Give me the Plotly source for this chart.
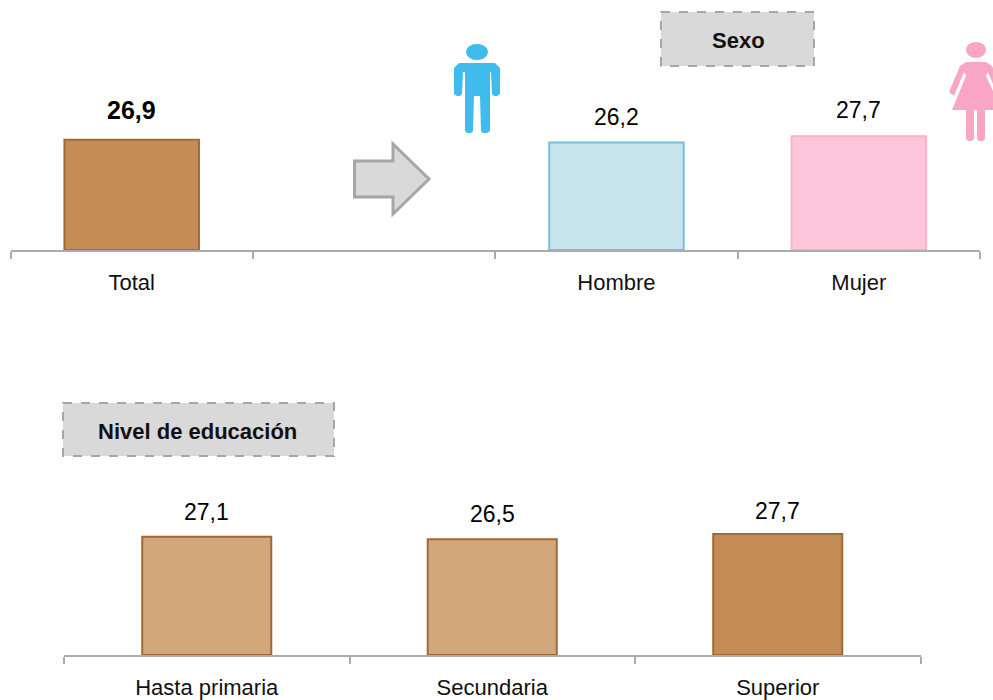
import plotly.graph_objects as go

W, H = 993, 700
FONT = "Liberation Sans"

sexo_cats = ["Total", " ", "Hombre", "Mujer"]
sexo_vals = [26.9, None, 26.2, 27.7]
sexo_fill = ["#C58C55", "#FFFFFF", "#C7E5ED", "#FFC5DB"]
sexo_line = ["#A06A35", "#FFFFFF", "#78C0D6", "#FFAFCB"]

edu_cats = ["Hasta primaria", "Secundaria", "Superior"]
edu_vals = [27.1, 26.5, 27.7]
edu_fill = ["#D3A77C", "#D3A77C", "#C58C55"]
edu_line = ["#A06A35", "#A06A35", "#A06A35"]

sexo_title = "Sexo"
edu_title = "Nivel de educación"


def fmt(v):
    return f"{v:.1f}".replace(".", ",")


def px(x):
    return x / W


def py(y):
    return 1 - y / H


def path(points):
    return "M " + " L ".join(f"{px(x):.5f},{py(y):.5f}" for x, y in points) + " Z"


def deco(pts, fill, line=None, width=0, dash="solid"):
    return dict(type="path", xref="paper", yref="paper", path=path(pts), fillcolor=fill,
                line=dict(color=line or fill, width=width, dash=dash), layer="above")


def oval(cx, cy, rx, ry, fill):
    return dict(type="circle", xref="paper", yref="paper", x0=px(cx - rx), x1=px(cx + rx),
                y0=py(cy + ry), y1=py(cy - ry), fillcolor=fill, line=dict(width=0), layer="above")


fig = go.Figure()
fig.add_bar(x=sexo_cats, y=sexo_vals, marker=dict(color=sexo_fill, line=dict(color=sexo_line, width=2)),
            xaxis="x", yaxis="y", showlegend=False, hoverinfo="skip", width=0.555)
fig.add_bar(x=edu_cats, y=edu_vals, marker=dict(color=edu_fill, line=dict(color=edu_line, width=2)),
            xaxis="x2", yaxis="y2", showlegend=False, hoverinfo="skip", width=0.452)

annotations = []
for c, v in zip(sexo_cats, sexo_vals):
    if v is None:
        continue
    bold = c == "Total"
    annotations.append(dict(x=c, y=v, xref="x", yref="y", xanchor="center", yanchor="bottom", showarrow=False,
                            yshift=14 if bold else 11, text=f"<b>{fmt(v)}</b>" if bold else fmt(v),
                            font=dict(family=FONT, size=25 if bold else 23, color="#000000")))
for c, v in zip(edu_cats, edu_vals):
    annotations.append(dict(x=c, y=v, xref="x2", yref="y2", xanchor="center", yanchor="bottom", showarrow=False,
                            yshift=8 if c == "Superior" else 10, text=fmt(v),
                            font=dict(family=FONT, size=23, color="#000000")))

annotations.append(dict(x=px(738), y=py(40), xref="paper", yref="paper", showarrow=False,
                        xanchor="center", yanchor="middle",
                        text=f"<b>{sexo_title}</b>", font=dict(family=FONT, size=22, color="#111111")))
annotations.append(dict(x=px(197.5), y=py(431), xref="paper", yref="paper", showarrow=False,
                        xanchor="center", yanchor="middle",
                        text=f"<b>{edu_title}</b>", font=dict(family=FONT, size=22, color="#111111")))

MAN = "#3FBCEC"
WOMAN = "#F9A6C4"
man_pts = [(459, 63), (495, 63), (500, 68), (500, 94), (497, 96), (494, 96), (492, 94), (491, 72), (490, 72),
           (490, 131), (487, 133), (483, 133), (481, 131), (480, 96), (474, 96), (473, 131), (471, 133),
           (467, 133), (465, 131), (465, 72), (463, 72), (462, 94), (460, 96), (457, 96), (454, 94), (454, 68)]
woman_pts = [(966, 62), (986, 62), (992, 66), (1003, 92), (998, 96), (988, 72), (986, 76), (1002, 110),
             (985, 110), (985, 139), (983, 141), (979, 141), (977, 139), (977, 110), (974, 110), (974, 139),
             (972, 141), (968, 141), (966, 139), (966, 110), (952, 110), (966, 76), (964, 72), (954, 96),
             (949, 92), (960, 66)]
arrow_pts = [(354.5, 161), (393, 161), (393, 144), (429, 179), (393, 214), (393, 197), (354.5, 197)]
sexo_box = [(661, 12), (814, 12), (814, 66), (661, 66)]
edu_box = [(63, 403), (334, 403), (334, 456), (63, 456)]

shapes = [
    deco(sexo_box, "#D9D9D9", "#A6A6A6", 2, "dash"),
    deco(edu_box, "#D9D9D9", "#A6A6A6", 2, "dash"),
    deco(arrow_pts, "#D9D9D9", "#A6A6A6", 3),
    deco(man_pts, MAN),
    oval(477, 52, 11, 8, MAN),
    deco(woman_pts, WOMAN),
    oval(976, 50, 10, 8, WOMAN),
]
shapes[0]["layer"] = "below"
shapes[1]["layer"] = "below"
tick_font = dict(family=FONT, size=22, color="#111111")
axis_style = dict(type="category", tickson="boundaries", ticks="outside", ticklen=7, tickwidth=2,
                  tickcolor="#ABABAB", showline=True, linecolor="#ABABAB", linewidth=2, showgrid=False,
                  zeroline=False, tickfont=tick_font, ticklabelstandoff=12, fixedrange=True)
yaxis_style = dict(visible=False, showgrid=False, zeroline=False, fixedrange=True)

fig.update_layout(
    width=W, height=H, margin=dict(l=0, r=0, t=0, b=0), paper_bgcolor="white", plot_bgcolor="white",
    barmode="overlay", showlegend=False, shapes=shapes, annotations=annotations,
    xaxis=dict(domain=[px(10.5), px(980)], anchor="y", categoryorder="array", categoryarray=sexo_cats, **axis_style),
    yaxis=dict(domain=[py(250), py(118.7)], anchor="x", range=[0, 32], **yaxis_style),
    xaxis2=dict(domain=[px(64), px(920.5)], anchor="y2", categoryorder="array", categoryarray=edu_cats, **axis_style),
    yaxis2=dict(domain=[py(655), py(524)], anchor="x2", range=[0, 30], **yaxis_style),
)

fig.write_html("out.html", config={"displayModeBar": False}, post_script="document.body.style.margin='0';")
